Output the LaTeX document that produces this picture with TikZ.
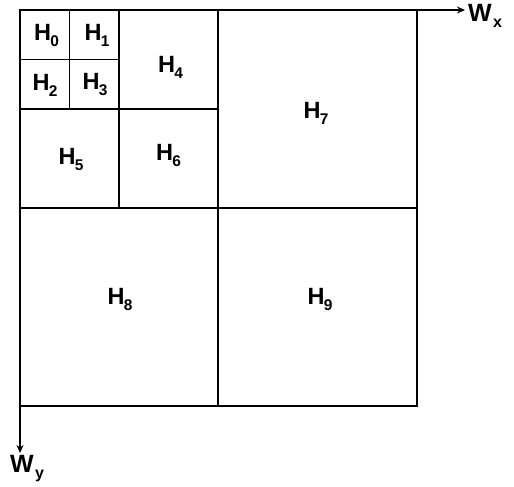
\documentclass[tikz,border=0pt]{standalone}
\usepackage{fontspec}
\setmainfont{Liberation Sans}
\usetikzlibrary{arrows.meta}
\newcommand{\Hlab}[1]{\bfseries H\kern-0.8pt\raisebox{-6pt}{\fontsize{15.5}{15.5}\selectfont #1}}
\newcommand{\Wlab}[1]{\bfseries W\kern1.5pt\raisebox{-6pt}{\fontsize{16}{16}\selectfont #1}}
\tikzset{
  cell/.style={draw=black, line width=1.4pt},
  axis/.style={draw=black, line width=1.6pt, -{Stealth[length=8pt,width=7pt]}},
  hlab/.style={inner sep=0pt, font=\fontsize{23.5}{23.5}\selectfont},
  wlab/.style={inner sep=0pt, font=\fontsize{25}{25}\selectfont},
}
\begin{document}
\begin{tikzpicture}[x=1pt,y=-1pt]
\useasboundingbox (0,0) rectangle (514,487);
% grid
\draw[cell] (20,10) rectangle (417,406);
\draw[cell] (218,10) -- (218,406);
\draw[cell] (20,208) -- (417,208);
\draw[cell] (119,10) -- (119,208);
\draw[cell] (20,109) -- (218,109);
\draw[cell] (69.5,10) -- (69.5,109);
\draw[cell] (20,59.5) -- (119,59.5);
% axes
\coordinate (O) at (20,10);
\coordinate (xend) at (465,10);
\coordinate (yend) at (20,453);
\draw[axis] (O) -- (xend);
\draw[axis] (O) -- (yend);
\node[wlab] (wx) at (485,16) {\Wlab{x}};
\node[wlab] (wy) at (27,469) {\Wlab{y}};
% labels
\node[hlab] (h0) at (46.5,35) {\Hlab{0}};
\node[hlab] (h1) at (97,35) {\Hlab{1}};
\node[hlab] (h2) at (45,85) {\Hlab{2}};
\node[hlab] (h3) at (95,85) {\Hlab{3}};
\node[hlab] (h4) at (170.5,67.5) {\Hlab{4}};
\node[hlab] (h5) at (71,159.5) {\Hlab{5}};
\node[hlab] (h6) at (168.5,155.5) {\Hlab{6}};
\node[hlab] (h7) at (316,113.5) {\Hlab{7}};
\node[hlab] (h8) at (120,299) {\Hlab{8}};
\node[hlab] (h9) at (320,299) {\Hlab{9}};
\end{tikzpicture}
\end{document}
